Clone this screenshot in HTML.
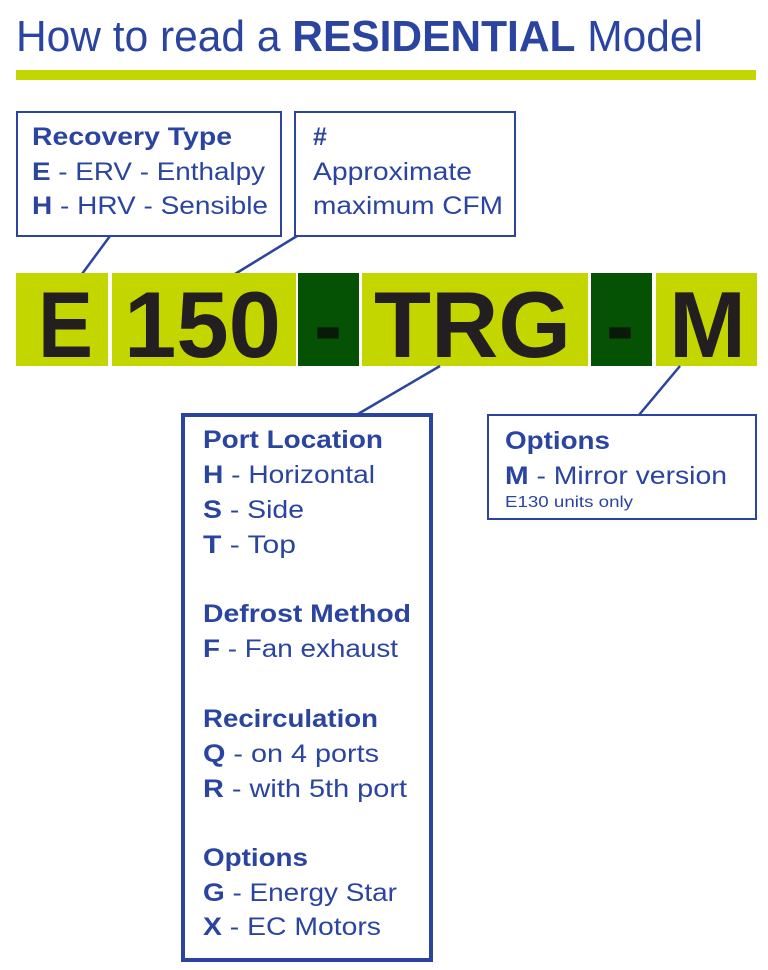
<!DOCTYPE html>
<html><head><meta charset="utf-8"><style>
html,body{margin:0;padding:0;background:#fff;width:768px;height:970px;overflow:hidden}
svg text{font-family:"Liberation Sans",Arial,sans-serif}
</style></head><body>
<svg width="768" height="970" viewBox="0 0 768 970" xmlns="http://www.w3.org/2000/svg">
<g fill="#2a44a0">
<text x="16" y="51" font-size="44" textLength="687" lengthAdjust="spacingAndGlyphs">How to read a <tspan font-weight="bold">RESIDENTIAL</tspan> Model</text>
</g>
<rect x="16" y="70" width="740" height="10" fill="#c4d600"/>

<!-- top boxes -->
<rect x="17" y="112" width="264" height="124" fill="none" stroke="#2a44a0" stroke-width="2"/>
<rect x="295" y="112" width="220" height="124" fill="none" stroke="#2a44a0" stroke-width="2"/>
<g fill="#2a44a0" font-size="25">
<text x="32" y="145" font-weight="bold" textLength="200" lengthAdjust="spacingAndGlyphs">Recovery Type</text>
<text x="32" y="180" textLength="233" lengthAdjust="spacingAndGlyphs"><tspan font-weight="bold">E</tspan> - ERV - Enthalpy</text>
<text x="32" y="214" textLength="236" lengthAdjust="spacingAndGlyphs"><tspan font-weight="bold">H</tspan> - HRV - Sensible</text>
<text x="313" y="145" font-weight="bold">#</text>
<text x="313" y="180" textLength="159" lengthAdjust="spacingAndGlyphs">Approximate</text>
<text x="313" y="214" textLength="190" lengthAdjust="spacingAndGlyphs">maximum CFM</text>
</g>
<line x1="82" y1="274" x2="110" y2="236" stroke="#2a44a0" stroke-width="2.5"/>
<line x1="235" y1="274" x2="297" y2="236" stroke="#2a44a0" stroke-width="2.5"/>

<!-- bar -->
<rect x="16" y="273" width="92" height="93" fill="#c4d600"/>
<rect x="112" y="273" width="184" height="93" fill="#c4d600"/>
<rect x="298" y="273" width="61" height="93" fill="#055205"/>
<rect x="362" y="273" width="226" height="93" fill="#c4d600"/>
<rect x="591" y="273" width="61" height="93" fill="#055205"/>
<rect x="656" y="273" width="101" height="93" fill="#c4d600"/>
<g fill="#231f20" font-size="94" font-weight="bold">
<text x="38" y="357" textLength="55" lengthAdjust="spacingAndGlyphs">E</text>
<text x="124" y="357" textLength="157" lengthAdjust="spacingAndGlyphs">150</text>
<text x="314" y="357" fill="#0a1a0a" textLength="28" lengthAdjust="spacingAndGlyphs">-</text>
<text x="374" y="357" textLength="197" lengthAdjust="spacingAndGlyphs">TRG</text>
<text x="606" y="357" fill="#0a1a0a" textLength="28" lengthAdjust="spacingAndGlyphs">-</text>
<text x="669" y="357" textLength="77" lengthAdjust="spacingAndGlyphs">M</text>
</g>

<line x1="440" y1="366" x2="358" y2="414" stroke="#2a44a0" stroke-width="2.5"/>
<line x1="680" y1="366" x2="639" y2="415" stroke="#2a44a0" stroke-width="2.5"/>

<!-- port box -->
<rect x="183" y="415" width="248" height="545" fill="none" stroke="#2a44a0" stroke-width="4"/>
<g fill="#2a44a0" font-size="25">
<text x="203" y="448" font-weight="bold" textLength="180" lengthAdjust="spacingAndGlyphs">Port Location</text>
<text x="203" y="483" textLength="172" lengthAdjust="spacingAndGlyphs"><tspan font-weight="bold">H</tspan> - Horizontal</text>
<text x="203" y="518" textLength="101" lengthAdjust="spacingAndGlyphs"><tspan font-weight="bold">S</tspan> - Side</text>
<text x="203" y="553" textLength="93" lengthAdjust="spacingAndGlyphs"><tspan font-weight="bold">T</tspan> - Top</text>
<text x="203" y="622" font-weight="bold" textLength="208" lengthAdjust="spacingAndGlyphs">Defrost Method</text>
<text x="203" y="657" textLength="195" lengthAdjust="spacingAndGlyphs"><tspan font-weight="bold">F</tspan> - Fan exhaust</text>
<text x="203" y="727" font-weight="bold" textLength="175" lengthAdjust="spacingAndGlyphs">Recirculation</text>
<text x="203" y="762" textLength="176" lengthAdjust="spacingAndGlyphs"><tspan font-weight="bold">Q</tspan> - on 4 ports</text>
<text x="203" y="797" textLength="204" lengthAdjust="spacingAndGlyphs"><tspan font-weight="bold">R</tspan> - with 5th port</text>
<text x="203" y="866" font-weight="bold" textLength="105" lengthAdjust="spacingAndGlyphs">Options</text>
<text x="203" y="901" textLength="194" lengthAdjust="spacingAndGlyphs"><tspan font-weight="bold">G</tspan> - Energy Star</text>
<text x="203" y="935" textLength="178" lengthAdjust="spacingAndGlyphs"><tspan font-weight="bold">X</tspan> - EC Motors</text>
</g>

<!-- options box -->
<rect x="488" y="415" width="268" height="104" fill="none" stroke="#2a44a0" stroke-width="2"/>
<g fill="#2a44a0">
<text x="505" y="449" font-size="25" font-weight="bold" textLength="105" lengthAdjust="spacingAndGlyphs">Options</text>
<text x="505" y="484" font-size="25" textLength="222" lengthAdjust="spacingAndGlyphs"><tspan font-weight="bold">M</tspan> - Mirror version</text>
<text x="505" y="507" font-size="16" textLength="128" lengthAdjust="spacingAndGlyphs">E130 units only</text>
</g>
</svg>
</body></html>
